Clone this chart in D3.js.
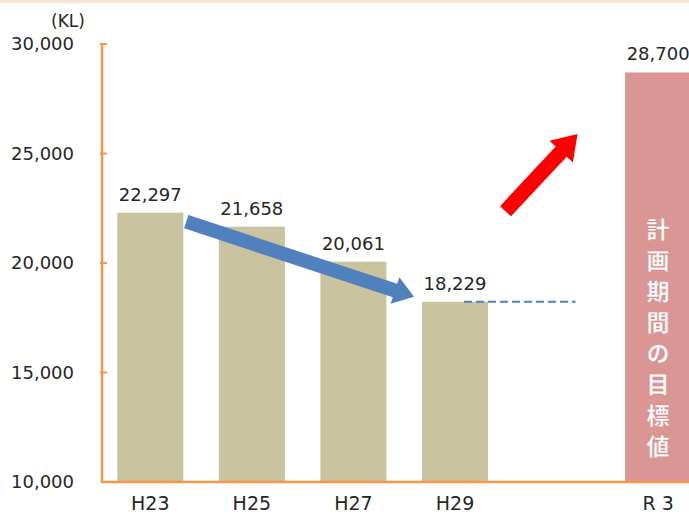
<!DOCTYPE html>
<html>
<head>
<meta charset="utf-8">
<script src="https://cdn.jsdelivr.net/npm/d3@7"></script>
<style>
  html, body { margin: 0; padding: 0; background: #fff; }
  svg { display: block; font-family: "DejaVu Sans", Verdana, sans-serif; }
</style>
</head>
<body>
<svg id="chart" width="689" height="515"></svg>
<script>
const categories = ["H23", "H25", "H27", "H29", "", "R3"];
const tickLabels = { H23: "H23", H25: "H25", H27: "H27", H29: "H29", "": "", R3: "R 3" };
const actual = [
  { cat: "H23", value: 22297 },
  { cat: "H25", value: 21658 },
  { cat: "H27", value: 20061 },
  { cat: "H29", value: 18229 },
];
const target = [{ cat: "R3", value: 28700 }];
const yTicks = [10000, 15000, 20000, 25000, 30000];
const targetText = "計画期間の目標値";

const width = 689, height = 515;
const margin = { top: 44, right: 0, bottom: 33, left: 102 };
const orange = "#f79646";

const svg = d3.select("#chart");

// faint band along the top edge
svg.append("rect").attr("x", 0).attr("y", 0).attr("width", width).attr("height", 3).attr("fill", "#fce4d2");

const y = d3.scaleLinear()
  .domain([10000, 30000])
  .range([height - margin.bottom, margin.top]);

const x = d3.scaleBand()
  .domain(categories)
  .range([margin.left - 2, margin.left - 2 + 6 * 101.4])
  .paddingInner(0.35)
  .paddingOuter(0.17);

const fmt = d3.format(",");

// bars
svg.append("g").selectAll("rect")
  .data(actual)
  .join("rect")
  .attr("x", (d) => x(d.cat))
  .attr("y", (d) => y(d.value))
  .attr("width", x.bandwidth())
  .attr("height", (d) => y(10000) - y(d.value))
  .attr("fill", "#c9c39f");

svg.append("g").selectAll("rect")
  .data(target)
  .join("rect")
  .attr("x", (d) => x(d.cat))
  .attr("y", (d) => y(d.value))
  .attr("width", x.bandwidth())
  .attr("height", (d) => y(10000) - y(d.value))
  .attr("fill", "#da9694");

// value labels
svg.append("g").selectAll("text")
  .data(actual.concat(target))
  .join("text")
  .attr("x", (d) => x(d.cat) + x.bandwidth() / 2)
  .attr("y", (d) => y(d.value) - 12)
  .attr("text-anchor", "middle")
  .attr("font-size", 18)
  .attr("fill", "#262626")
  .text((d) => fmt(d.value));

// vertical text in target bar
const tx = x("R3") + x.bandwidth() / 2;
svg.append("text")
  .attr("x", tx)
  .attr("y", 218)
  .attr("writing-mode", "vertical-rl")
  .attr("letter-spacing", 8)
  .attr("font-family", "'Noto Sans CJK JP', sans-serif")
  .attr("font-size", 23)
  .attr("font-weight", 700)
  .attr("fill", "#fff")
  .attr("stroke", "#c98a88")
  .attr("stroke-width", 0.3)
  .text(targetText);

// axes
const yAxis = (g) => g
  .attr("transform", `translate(${margin.left},0)`)
  .call(d3.axisLeft(y).tickValues(yTicks).tickFormat(fmt).tickSize(0).tickPadding(28))
  .call((g) => g.select(".domain").remove())
  .call((g) => g.selectAll(".tick text")
    .attr("font-size", 18)
    .attr("fill", "#262626")
    .attr("font-family", "'DejaVu Sans', Verdana, sans-serif"));
svg.append("g").call(yAxis);

svg.append("g").selectAll("line")
  .data(yTicks.slice(1))
  .join("line")
  .attr("x1", margin.left - 2).attr("x2", margin.left + 5)
  .attr("y1", (d) => y(d)).attr("y2", (d) => y(d))
  .attr("stroke", orange).attr("stroke-width", 2);

svg.append("line")
  .attr("x1", margin.left).attr("x2", margin.left)
  .attr("y1", y(30000)).attr("y2", y(10000))
  .attr("stroke", orange).attr("stroke-width", 2.5);

svg.append("line")
  .attr("x1", margin.left - 1).attr("x2", width)
  .attr("y1", y(10000)).attr("y2", y(10000))
  .attr("stroke", orange).attr("stroke-width", 2.5);

const xAxis = (g) => g
  .attr("transform", `translate(0,${y(10000)})`)
  .call(d3.axisBottom(x).tickSize(0).tickPadding(15).tickFormat((d) => tickLabels[d]))
  .call((g) => g.select(".domain").remove())
  .call((g) => g.selectAll(".tick text")
    .attr("font-size", 19)
    .attr("fill", "#262626")
    .attr("font-family", "'DejaVu Sans', Verdana, sans-serif"));
svg.append("g").call(xAxis);

// unit
svg.append("text")
  .attr("x", 68).attr("y", 27)
  .attr("text-anchor", "middle")
  .attr("font-size", 17)
  .attr("fill", "#262626")
  .text("(KL)");

// block arrow helper
function arrow(x1, y1, x2, y2, shaft, headW, headL, color) {
  const dx = x2 - x1, dy = y2 - y1;
  const len = Math.hypot(dx, dy);
  const ux = dx / len, uy = dy / len, nx = -uy, ny = ux;
  const bx = x2 - ux * headL, by = y2 - uy * headL;
  const pts = [
    [x1 + nx * shaft / 2, y1 + ny * shaft / 2],
    [bx + nx * shaft / 2, by + ny * shaft / 2],
    [bx + nx * headW / 2, by + ny * headW / 2],
    [x2, y2],
    [bx - nx * headW / 2, by - ny * headW / 2],
    [bx - nx * shaft / 2, by - ny * shaft / 2],
    [x1 - nx * shaft / 2, y1 - ny * shaft / 2],
  ];
  svg.append("path").attr("d", d3.line()(pts) + "Z").attr("fill", color);
}

// decreasing trend arrow
const h23 = actual[0], h29 = actual[3];
arrow(x(h23.cat) + x.bandwidth() + 3, y(h23.value) + 9,
  x(h29.cat) - 8, y(h29.value) - 5, 14, 28, 20, "#4f81bd");

// target arrow
arrow(x("") - 18, y(22500) + 3, x("") + 54, y(25800) - 2, 15, 32, 24, "#ff0000");

// dashed level line
svg.append("line")
  .attr("x1", x(h29.cat) + 42).attr("x2", x("") + 52)
  .attr("y1", y(h29.value)).attr("y2", y(h29.value))
  .attr("stroke", "#4f81bd").attr("stroke-width", 2)
  .attr("stroke-dasharray", "8,4");
</script>
</body>
</html>
